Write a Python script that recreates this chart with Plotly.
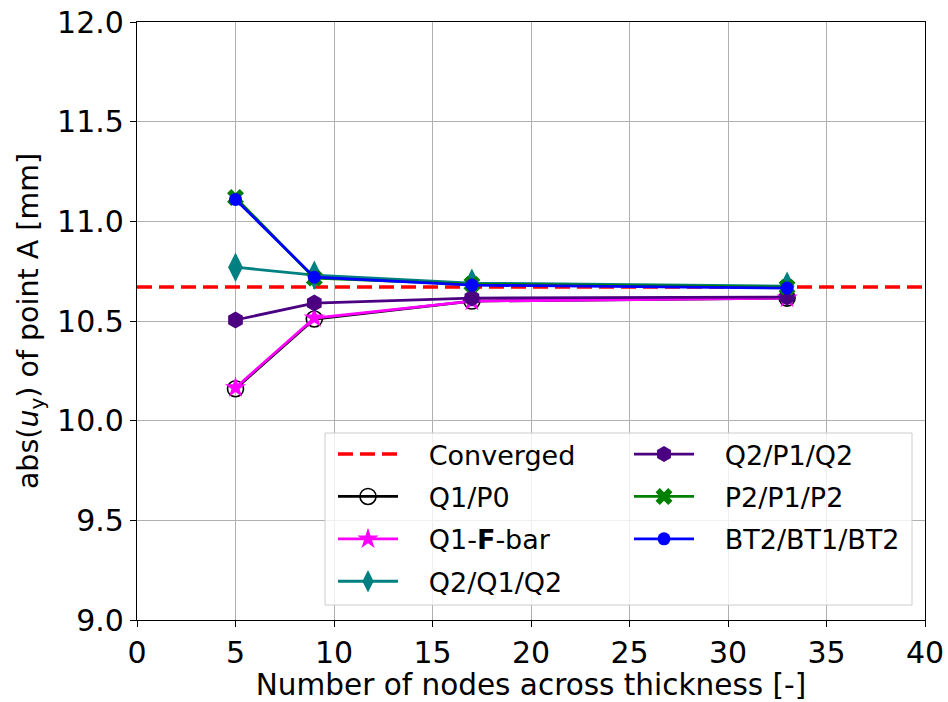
import plotly.graph_objects as go

nodes = [5, 9, 17, 33]
converged = 10.67
q1p0 = [10.16, 10.51, 10.60, 10.615]
q1fbar = [10.165, 10.515, 10.60, 10.615]
q2q1q2 = [10.77, 10.73, 10.69, 10.675]
q2p1q2 = [10.505, 10.59, 10.615, 10.62]
p2p1p2 = [11.12, 10.715, 10.685, 10.67]
bt2 = [11.11, 10.72, 10.68, 10.665]

x_ticks = [0, 5, 10, 15, 20, 25, 30, 35, 40]
y_ticks = [9.0, 9.5, 10.0, 10.5, 11.0, 11.5, 12.0]

FONT = "DejaVu Sans"
FS = 27
FT = 30
PAD = "\u00a0\u00a0\u00a0"
fig = go.Figure()

fig.add_trace(go.Scatter(x=[0, 40], y=[converged, converged], mode="lines", name=PAD + "Converged",
                         line=dict(color="red", width=3.5, dash="15px,7px"),
                         legend="legend", legendgroup="a"))
series = [
    ("Q1/P0", q1p0, "black", dict(symbol="circle-open", size=16, color="black", line=dict(width=1.6, color="black")), "legend", "b"),
    ("Q1-<b>F</b>-bar", q1fbar, "#ff00ff", dict(symbol="star", size=16, color="#ff00ff", line=dict(width=0)), "legend", "c"),
    ("Q2/Q1/Q2", q2q1q2, "#008080", dict(symbol="diamond-tall", size=21, color="#008080", line=dict(width=0)), "legend", "d"),
    ("Q2/P1/Q2", q2p1q2, "#4b0082", dict(symbol="hexagon", size=17, color="#4b0082", line=dict(width=0)), "legend2", "e"),
    ("P2/P1/P2", p2p1p2, "#008000", dict(symbol="x", size=15, color="#008000", line=dict(width=0)), "legend2", "f"),
    ("BT2/BT1/BT2", bt2, "#0000ff", dict(symbol="circle", size=13, color="#0000ff", line=dict(width=0)), "legend2", "g"),
]
for name, ys, col, mk, lg, grp in series:
    fig.add_trace(go.Scatter(x=nodes, y=ys, mode="lines+markers", name=PAD + name,
                             line=dict(color=col, width=2.8), marker=mk,
                             legend=lg, legendgroup=grp))

axis_common = dict(showline=True, linecolor="black", linewidth=1.2, mirror=True,
                   showgrid=True, gridcolor="#b0b0b0", gridwidth=1,
                   ticks="outside", ticklen=6, tickcolor="black", tickwidth=1.2,
                   zeroline=False, automargin=False,
                   tickfont=dict(family=FONT, size=FT, color="black"))

fig.update_xaxes(range=[0, 40], tickvals=x_ticks, ticktext=[str(v) for v in x_ticks],
                 title=dict(text="Number of nodes across thickness [-]",
                            font=dict(family=FONT, size=29.5, color="black"), standoff=4),
                 **axis_common)
fig.update_yaxes(range=[9.0, 12.0], tickvals=y_ticks, ticktext=[f"{v:.1f}" for v in y_ticks],
                 title=dict(text="abs(<i>u</i><sub>y</sub>) of point A [mm]",
                            font=dict(family=FONT, size=28.5, color="black"), standoff=10),
                 **axis_common)

leg_common = dict(bgcolor="rgba(0,0,0,0)", borderwidth=0, font=dict(family=FONT, size=FS, color="black"),
                  tracegroupgap=4.3, itemwidth=60, xanchor="left", yanchor="top", itemsizing="trace")
fig.update_layout(
    width=948, height=702,
    margin=dict(l=137, r=23, t=22, b=82, autoexpand=False),
    paper_bgcolor="white", plot_bgcolor="white",
    font=dict(family=FONT, color="black"),
    legend=dict(x=(333 - 137) / 788, y=(620 - 430) / 598, **leg_common),
    legend2=dict(x=(629 - 137) / 788, y=(620 - 430) / 598, **leg_common),
    shapes=[dict(type="rect", xref="paper", yref="paper",
                 x0=(325 - 137) / 788, x1=(912 - 137) / 788,
                 y0=(620 - 605) / 598, y1=(620 - 433) / 598,
                 fillcolor="rgba(255,255,255,0.8)", line=dict(color="#cccccc", width=1),
                 layer="above")],
)

fig.write_html("out.html")
